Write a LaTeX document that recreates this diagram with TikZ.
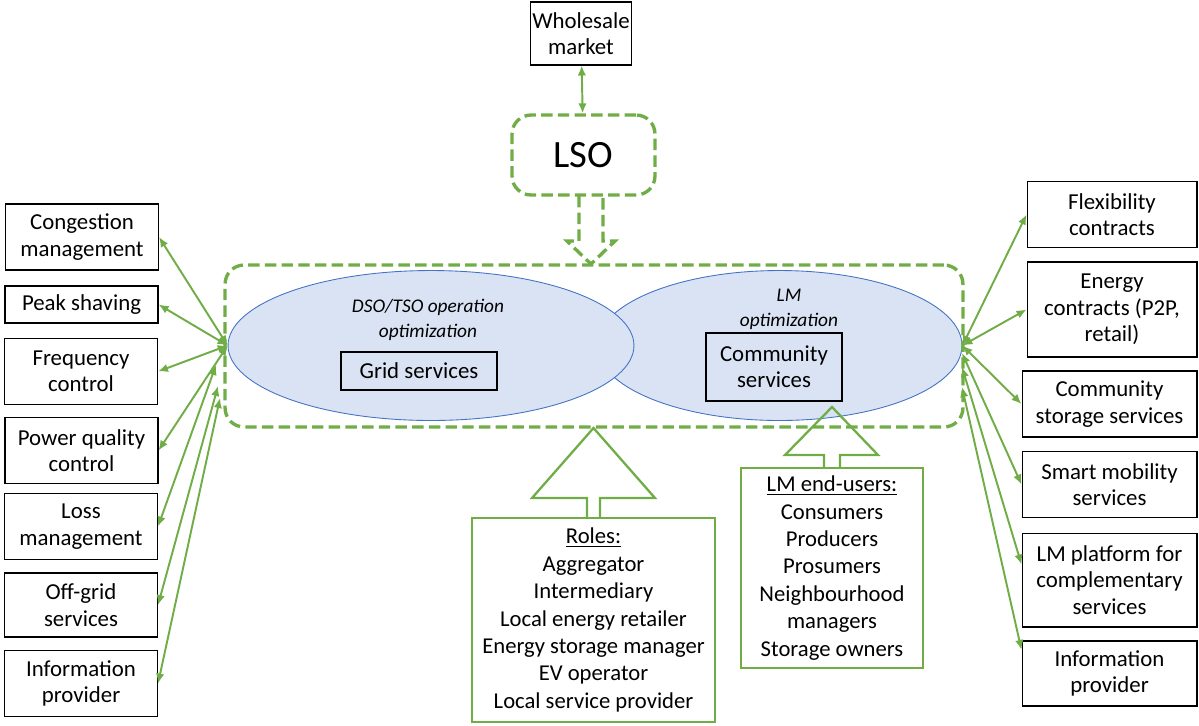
\documentclass[tikz,border=0pt]{standalone}
\usepackage{fontspec}
\setmainfont{Carlito}
\usetikzlibrary{positioning, arrows.meta, shapes.geometric}
\definecolor{leafgreen}{HTML}{70AD47}
\definecolor{optfill}{HTML}{DAE3F3}
\definecolor{optline}{HTML}{4472C4}

\begin{document}
\begin{tikzpicture}[
    x=0.02cm, y=-0.02cm,
    service/.style={draw, align=center, line width=0.6pt, inner sep=1pt,
        font=\fontsize{13}{15}\selectfont, minimum width=3.06cm, minimum height=1.32cm},
    actor/.style={draw=leafgreen, line width=1.3pt, align=center, inner sep=2pt,
        font=\fontsize{12.9}{15.6}\selectfont},
    optim/.style={ellipse, draw=optline, fill=optfill, line width=0.5pt},
    caption/.style={align=center, font=\fontsize{11}{14}\selectfont\itshape},
    dashbox/.style={draw=leafgreen, line width=1.9pt, dash pattern=on 6.5pt off 3pt, rounded corners=0.38cm},
    link/.style={{Latex[length=2mm,width=1.7mm]}-{Latex[length=2mm,width=1.7mm]}, draw=leafgreen, line width=1.1pt},
    hollow/.style={draw=leafgreen, line width=1.3pt, line join=miter}
]
    \useasboundingbox (0,0) rectangle (1199,725);

    % NODES
    \node[service, minimum width=1.92cm, minimum height=1.26cm] (wholesale) at (581,33.5) {Wholesale\\market};
    \node[dashbox, minimum width=2.86cm, minimum height=1.6cm, font=\fontsize{22}{26}\selectfont] (lso) at (583.5,155) {LSO};

    \node[optim, minimum width=7.3cm, minimum height=3cm] (lm_opt) at (779.5,345.5) {};
    \node[optim, minimum width=8.12cm, minimum height=3cm] (dso_opt) at (431,345.5) {};
    \node[dashbox, minimum width=14.76cm, minimum height=3.24cm] (frame) at (594,346) {};

    \node[caption] (dso_label) at (428,320) {DSO/TSO operation\\optimization};
    \node[caption] (lm_label) at (789,309.5) {LM\\optimization};
    \node[service, minimum width=3.12cm, minimum height=0.76cm] (grid) at (419,371) {Grid services};
    \node[service, minimum width=2.72cm, minimum height=1.36cm] (community) at (774,367) {Community\\services};

    \node[actor, minimum width=4.86cm, minimum height=4.08cm] (roles) at (593.5,620) {\underline{Roles:}\\Aggregator\\Intermediary\\Local energy retailer\\Energy storage manager\\EV operator\\Local service provider};
    \node[actor, minimum width=3.64cm, minimum height=4cm] (endusers) at (832,568) {\underline{LM end-users:}\\Consumers\\Producers\\Prosumers\\Neighbourhood\\managers\\Storage owners};

    % left services
    \node[service] (congestion) at (82,237) {Congestion\\management};
    \node[service, minimum height=0.74cm] (peak) at (81.5,304.5) {Peak shaving};
    \node[service] (frequency) at (81,371.5) {Frequency\\control};
    \node[service] (quality) at (81.5,450.5) {Power quality\\control};
    \node[service] (loss) at (81,526.5) {Loss\\management};
    \node[service, minimum height=1.28cm] (offgrid) at (81,605) {Off-grid\\services};
    \node[service] (info_left) at (81,683.5) {Information\\provider};

    % right services
    \node[service, minimum width=3.4cm] (flexibility) at (1112,214.5) {Flexibility\\contracts};
    \node[service, minimum width=3.4cm, minimum height=1.9cm] (energy) at (1112,309.5) {Energy\\contracts (P2P,\\retail)};
    \node[service, minimum width=3.5cm] (storage) at (1109.5,404) {Community\\storage services};
    \node[service, minimum width=3.5cm] (mobility) at (1109.5,484.5) {Smart mobility\\services};
    \node[service, minimum width=3.5cm, minimum height=1.88cm] (platform) at (1109.5,580) {LM platform for\\complementary\\services};
    \node[service, minimum width=3.5cm, minimum height=1.3cm] (info_right) at (1109.5,673.5) {Information\\provider};

    \coordinate (hub_left) at (dso_opt.west);
    \coordinate (hub_left5) at (216,365);
    \coordinate (hub_left6) at (218,386);
    \coordinate (hub_left7) at (220,398);
    \coordinate (hub_right) at (lm_opt.east);
    \coordinate (hub_right4) at (962,353);
    \coordinate (hub_right5) at (962,367);
    \coordinate (hub_right6) at (962,387);

    % EDGES
    \draw[link] (wholesale) -- (lso);

    \draw[link] (hub_left) -- (congestion.east);
    \draw[link] (hub_left) -- (peak.east);
    \draw[link] (hub_left) -- (frequency.east);
    \draw[link] (hub_left) -- (quality.east);
    \draw[link] (hub_left5) -- (loss.east);
    \draw[link] (hub_left6) -- (offgrid.east);
    \draw[link] (hub_left7) -- (info_left.east);

    \draw[link] (hub_right) -- (flexibility.west);
    \draw[link] (hub_right) -- (energy.west);
    \draw[link] (hub_right) -- (storage.west);
    \draw[link] (hub_right4) -- (mobility.west);
    \draw[link] (hub_right5) -- (platform.170);
    \draw[link] (hub_right6) -- (info_right.165);

    % block arrows
    \draw[dashbox, rounded corners=0pt, line join=miter] (579,196) -- (579,241) -- (567,241) -- (591,264) -- (615,241) -- (603,241) -- (603,196);
    \draw[hollow] (587,518) -- (587,498) -- (532,498) -- (593.5,428) -- (655,498) -- (600,498) -- (600,518);
    \draw[hollow] (824,468) -- (824,455) -- (785,455) -- (832,407) -- (878,455) -- (840,455) -- (840,468);

\end{tikzpicture}
\end{document}
